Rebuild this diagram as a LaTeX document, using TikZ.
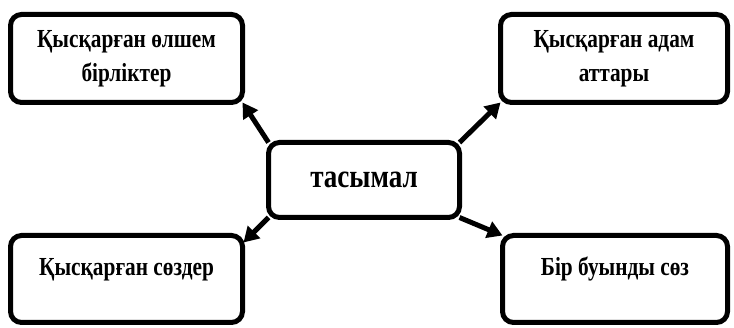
\documentclass[tikz,border=0pt]{standalone}
\usepackage{fontspec}
\setmainfont{Liberation Serif}[BoldFont={* Bold},FakeStretch=0.82]
\usetikzlibrary{arrows.meta,calc}
\tikzset{
  basebox/.style={draw=black, line width=5pt, rounded corners=11pt, fill=white,
    inner sep=0pt, outer sep=0pt,
    font=\bfseries\fontsize{26}{34}\selectfont},
  box/.style={basebox, align=center},
  lowbox/.style={basebox, text height=20pt, text depth=26pt},
  arr/.style={line width=5pt, -{Triangle[length=15pt,width=17pt]}}
}
\begin{document}
\begin{tikzpicture}[x=1pt,y=-1pt]
\useasboundingbox (0,0) rectangle (734,328);
\node[box, minimum width=232pt, minimum height=88pt] (tl) at (126.5,58.5) {Қысқарған өлшем\\бірліктер};
\node[box, minimum width=227pt, minimum height=88pt] (tr) at (614,58.5) {Қысқарған адам\\аттары};
\node[lowbox, minimum width=232pt, minimum height=87pt] (bl) at (126.5,279) {Қысқарған сөздер};
\node[lowbox, minimum width=225pt, minimum height=87pt] (br) at (615,279) {Бір буынды сөз};
\node[box, minimum width=191pt, minimum height=75pt, font=\bfseries\fontsize{33}{40}\selectfont] (c) at (364,180) {тасымал};
\draw[arr] (c.north west) -- (tl.south east);
\draw[arr] (c.north east) -- (tr.south west);
\draw[arr] (c.south west) -- ($(bl.north east)+(1,7)$);
\draw[arr] (c.south east) -- (br.north west);
\end{tikzpicture}
\end{document}
